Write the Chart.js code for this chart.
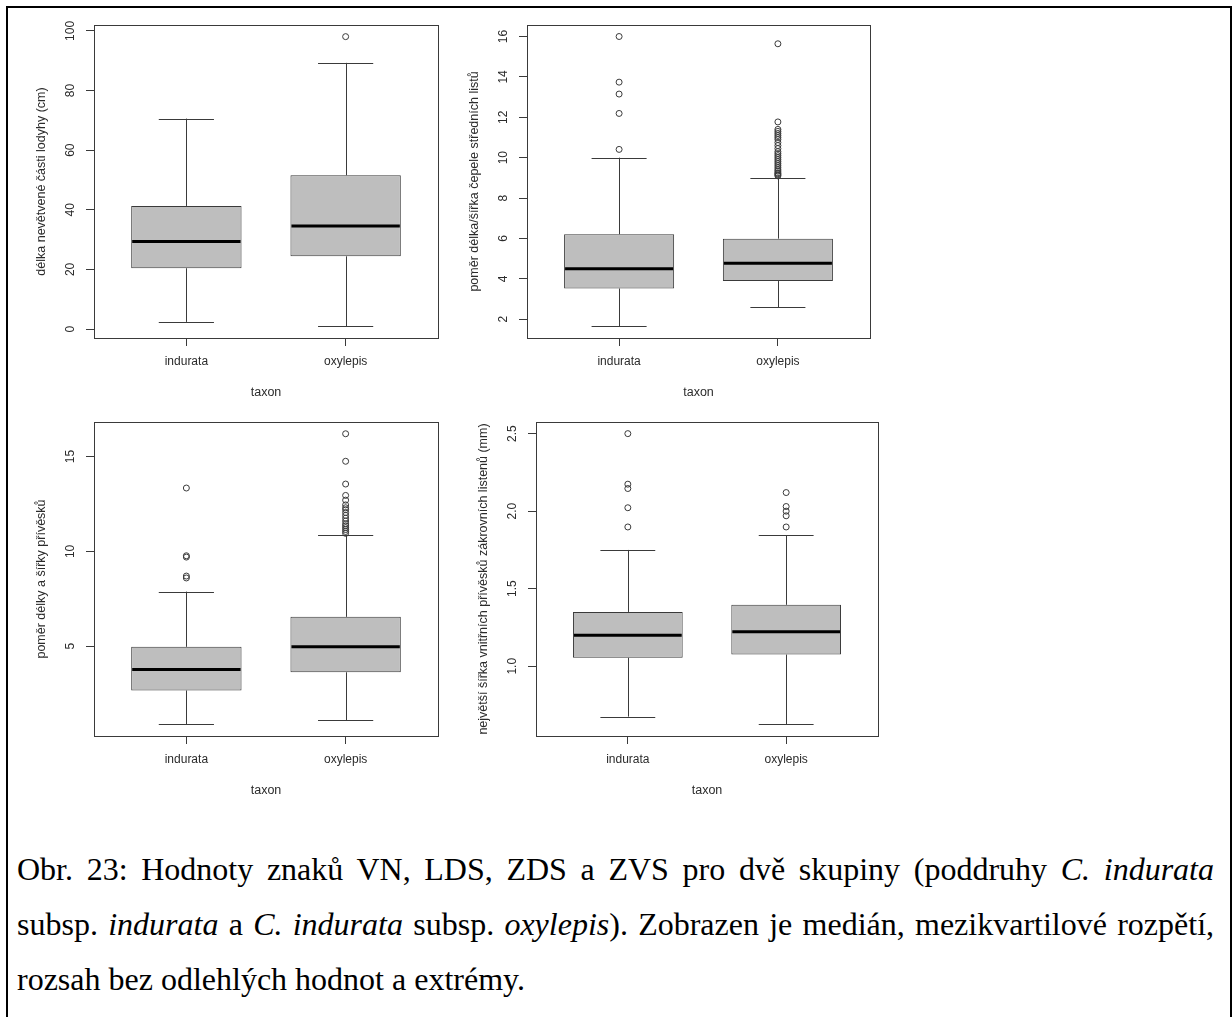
<!DOCTYPE html>
<html>
<head>
<meta charset="utf-8">
<script src="https://cdn.jsdelivr.net/npm/chart.js@4/dist/chart.umd.min.js"></script>
<style>
  html, body { margin: 0; padding: 0; background: #fff; }
  body { width: 1232px; height: 1017px; position: relative; overflow: hidden; }
  #border { position: absolute; left: 6px; top: 6px; width: 1222px; height: 1100px; border: 2px solid #000; }
  canvas.panel { position: absolute; }
  .cap { position: absolute; left: 17px; width: 1197px; font-family: "Liberation Serif", "Times New Roman", serif;
         font-size: 32px; line-height: 36px; color: #000; text-align: justify; white-space: nowrap; }
  .cap.full { white-space: normal; text-align-last: justify; }
</style>
</head>
<body>
<div id="border"></div>
<div class="cap full" style="top:851px">Obr. 23: Hodnoty znaků VN, LDS, ZDS a ZVS pro dvě skupiny (poddruhy <i>C. indurata</i></div>
<div class="cap full" style="top:906px">subsp. <i>indurata</i> a <i>C. indurata</i> subsp. <i>oxylepis</i>). Zobrazen je medián, mezikvartilové rozpětí,</div>
<div class="cap" style="top:961px">rozsah bez odlehlých hodnot a extrémy.</div>

<script>
// Groups on the x axis
const taxa = ['indurata', 'oxylepis'];
const xTitle = 'taxon';

// Five-number summaries: [lower whisker, Q1, median, Q3, upper whisker]
// VN – length of the unbranched stem part
const vnIndurata = [2.4, 20.4, 29.4, 41.3, 70.6];
const vnOxylepis = [1.0, 24.4, 34.6, 51.6, 89.3];
const vnOutIndurata = [];
const vnOutOxylepis = [98.1];
const vnTicks = [0, 20, 40, 60, 80, 100];

// LDS – length/width ratio of middle leaf blades
const ldsIndurata = [1.64, 3.52, 4.50, 6.21, 10.0];
const ldsOxylepis = [2.59, 3.89, 4.77, 5.99, 9.0];
const ldsOutIndurata = [16.0, 13.74, 13.15, 12.19, 10.41];
const ldsOutOxylepis = [15.64, 11.77, 11.4, 11.3, 11.2, 11.1, 11.0, 10.9, 10.75, 10.6, 10.45, 10.3, 10.2,
                        10.1, 10.0, 9.9, 9.8, 9.7, 9.6, 9.5, 9.4, 9.33, 9.25, 9.2, 9.15, 9.1];
const ldsTicks = [2, 4, 6, 8, 10, 12, 14, 16];

// ZDS – length/width ratio of appendages
const zdsIndurata = [0.88, 2.67, 3.77, 4.97, 7.88];
const zdsOxylepis = [1.09, 3.63, 4.98, 6.55, 10.84];
const zdsOutIndurata = [13.34, 9.77, 9.7, 8.7, 8.6];
const zdsOutOxylepis = [16.2, 14.75, 13.55, 12.95, 12.7, 12.45, 12.3, 12.2, 12.05, 11.9, 11.75, 11.6,
                        11.45, 11.35, 11.25, 11.15, 11.05, 10.95];
const zdsTicks = [5, 10, 15];

// ZVS – greatest width of inner involucral bract appendages (mm)
const zvsIndurata = [0.675, 1.054, 1.20, 1.35, 1.75];
const zvsOxylepis = [0.625, 1.075, 1.223, 1.396, 1.846];
const zvsOutIndurata = [2.5, 2.174, 2.146, 2.022, 1.898];
const zvsOutOxylepis = [2.12, 2.03, 2.0, 1.97, 1.898];
const zvsTicks = [1.0, 1.5, 2.0, 2.5];

const FONT = '"Liberation Sans", Arial, sans-serif';
const TICK_SIZE = 12;
const TITLE_SIZE = 12.5;
const INK = '#2b2b2b';
const LINE = '#3a3a3a';
const BOX_FILL = '#bebebe';
const TICK_LEN = 8;

const measureCtx = document.createElement('canvas').getContext('2d');
function widest(labels) {
  measureCtx.font = `${TICK_SIZE}px ${FONT}`;
  return Math.max(...labels.map(l => measureCtx.measureText(l).width));
}

const panels = [
  { box: { left: 10, top: 10, w: 450, h: 400 }, frame: { l: 94, r: 438, t: 25, b: 338 },
    stats: [vnIndurata, vnOxylepis], out: [vnOutIndurata, vnOutOxylepis], ticks: vnTicks,
    yMin: -3, yMax: 102, digits: 0, yTitle: 'délka nevětvené části lodyhy (cm)' },
  { box: { left: 460, top: 10, w: 440, h: 400 }, frame: { l: 527, r: 870, t: 25, b: 338 },
    stats: [ldsIndurata, ldsOxylepis], out: [ldsOutIndurata, ldsOutOxylepis], ticks: ldsTicks,
    yMin: 1.07, yMax: 16.57, digits: 0, yTitle: 'poměr délka/šířka čepele středních listů' },
  { box: { left: 10, top: 410, w: 450, h: 400 }, frame: { l: 94, r: 438, t: 422, b: 736 },
    stats: [zdsIndurata, zdsOxylepis], out: [zdsOutIndurata, zdsOutOxylepis], ticks: zdsTicks,
    yMin: 0.27, yMax: 16.82, digits: 0, yTitle: 'poměr délky a šířky přívěsků' },
  { box: { left: 460, top: 410, w: 440, h: 400 }, frame: { l: 536, r: 878, t: 422, b: 736 },
    stats: [zvsIndurata, zvsOxylepis], out: [zvsOutIndurata, zvsOutOxylepis], ticks: zvsTicks,
    yMin: 0.55, yMax: 2.575, digits: 1, yTitle: 'největší šířka vnitřních přívěsků zákrovních listenů (mm)' }
];

function crisp(v) { return Math.round(v) + 0.5; }

function makePanel(p) {
  const canvas = document.createElement('canvas');
  canvas.className = 'panel';
  canvas.width = p.box.w; canvas.height = p.box.h;
  canvas.style.left = p.box.left + 'px'; canvas.style.top = p.box.top + 'px';
  canvas.style.width = p.box.w + 'px'; canvas.style.height = p.box.h + 'px';
  document.body.appendChild(canvas);

  const yW = p.frame.l - p.box.left;
  const xH = p.box.top + p.box.h - p.frame.b;
  const tickLabels = p.ticks.map(v => v.toFixed(p.digits));
  const yTickPad = 23 - TICK_LEN - widest(tickLabels) / 2;

  const outliers = [];
  p.out.forEach((vals, i) => vals.forEach(v => outliers.push({ x: i + 1, y: v })));

  // whiskers, caps, medians and the plot frame, all placed through the chart scales
  const rbox = {
    id: 'rbox',
    beforeDatasetsDraw(chart) {
      const { ctx, scales: { y } } = chart;
      const bars = chart.getDatasetMeta(0).data;
      ctx.save();
      ctx.strokeStyle = LINE; ctx.lineWidth = 1;
      p.stats.forEach((s, i) => {
        const bx = crisp(bars[i].x);
        const half = bars[i].width / 4;
        ctx.beginPath();
        ctx.moveTo(bx, y.getPixelForValue(s[0])); ctx.lineTo(bx, y.getPixelForValue(s[1]));
        ctx.moveTo(bx, y.getPixelForValue(s[3])); ctx.lineTo(bx, y.getPixelForValue(s[4]));
        const lo = crisp(y.getPixelForValue(s[0])), hi = crisp(y.getPixelForValue(s[4]));
        ctx.moveTo(bars[i].x - half, lo); ctx.lineTo(bars[i].x + half, lo);
        ctx.moveTo(bars[i].x - half, hi); ctx.lineTo(bars[i].x + half, hi);
        ctx.stroke();
      });
      ctx.restore();
    },
    afterDatasetsDraw(chart) {
      const { ctx, chartArea: a, scales: { y } } = chart;
      const bars = chart.getDatasetMeta(0).data;
      ctx.save();
      ctx.strokeStyle = '#000'; ctx.lineWidth = 3;
      p.stats.forEach((s, i) => {
        const my = y.getPixelForValue(s[2]);
        ctx.beginPath();
        ctx.moveTo(bars[i].x - bars[i].width / 2 + 1, my);
        ctx.lineTo(bars[i].x + bars[i].width / 2 - 1, my);
        ctx.stroke();
      });
      ctx.strokeStyle = LINE; ctx.lineWidth = 1;
      ctx.strokeRect(crisp(a.left), crisp(a.top), Math.round(a.right - a.left), Math.round(a.bottom - a.top));
      ctx.restore();
    }
  };

  new Chart(canvas, {
    type: 'bar',
    data: {
      datasets: [
        {
          type: 'bar',
          data: p.stats.map((s, i) => ({ x: i + 1, y: [s[1], s[3]] })),
          backgroundColor: BOX_FILL,
          borderColor: LINE,
          borderWidth: 1,
          borderSkipped: false,
          barPercentage: 0.693,
          categoryPercentage: 1
        },
        {
          type: 'scatter',
          data: outliers,
          pointStyle: 'circle',
          radius: 3,
          borderWidth: 1,
          borderColor: LINE,
          backgroundColor: 'rgba(0,0,0,0)'
        }
      ]
    },
    options: {
      responsive: false,
      animation: false,
      devicePixelRatio: 1,
      layout: { padding: { left: 0, top: p.frame.t - p.box.top, right: p.box.left + p.box.w - p.frame.r, bottom: 0 } },
      plugins: { legend: { display: false }, tooltip: { enabled: false } },
      scales: {
        x: {
          type: 'linear',
          offset: false,
          min: 0.42, max: 2.58,
          afterBuildTicks: s => { s.ticks = taxa.map((t, i) => ({ value: i + 1 })); },
          afterFit: s => { s.height = xH; s.paddingLeft = 0; s.paddingRight = 0; },
          grid: { offset: false, drawOnChartArea: false, tickLength: TICK_LEN, color: LINE },
          border: { display: false },
          ticks: {
            callback: v => taxa[Math.round(v) - 1],
            color: INK, padding: 8.8, maxRotation: 0, minRotation: 0,
            font: { family: FONT, size: TICK_SIZE }
          },
          title: {
            display: true, text: xTitle, color: INK,
            font: { family: FONT, size: TITLE_SIZE },
            padding: { top: 0, bottom: xH - 55 - TITLE_SIZE * 0.6 }
          }
        },
        y: {
          type: 'linear',
          min: p.yMin, max: p.yMax,
          afterBuildTicks: s => { s.ticks = p.ticks.map(v => ({ value: v })); },
          afterFit: s => { s.width = yW; s.paddingTop = 0; s.paddingBottom = 0; },
          grid: { drawOnChartArea: false, tickLength: TICK_LEN, color: LINE },
          border: { display: false },
          ticks: {
            callback: v => Number(v).toFixed(p.digits),
            color: INK, padding: yTickPad, minRotation: 90, maxRotation: 90, crossAlign: 'center',
            font: { family: FONT, size: TICK_SIZE }
          },
          title: {
            display: true, text: p.yTitle, color: INK,
            font: { family: FONT, size: TITLE_SIZE },
            padding: { top: yW - 52.7 - TITLE_SIZE * 0.6, bottom: 0 }
          }
        }
      }
    },
    plugins: [rbox]
  });
}

panels.forEach(makePanel);
</script>
</body>
</html>
